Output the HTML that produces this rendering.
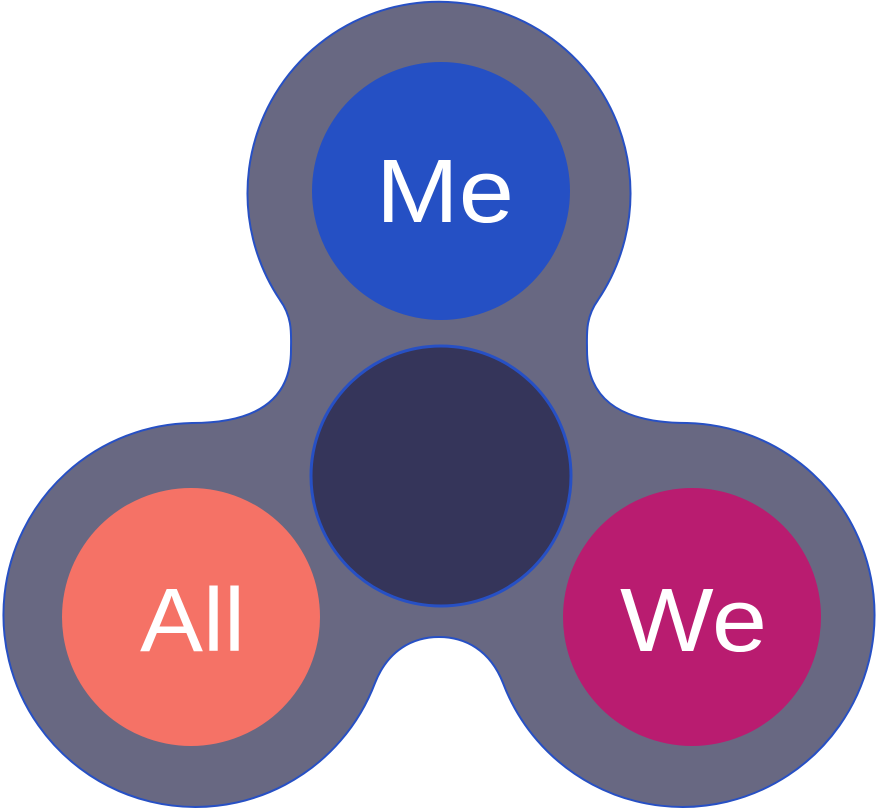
<!DOCTYPE html>
<html><head><style>html,body{margin:0;padding:0;background:#fff;width:877px;height:810px;overflow:hidden}</style></head>
<body>
<svg width="877" height="810" viewBox="0 0 877 810" xmlns="http://www.w3.org/2000/svg">
<path d="M 280 300 A 191.5 191.5 0 1 1 598 300 C 585 318 587 335 587 350 C 587 395 615 423 687 423 A 192 192 0 1 1 503 683 C 490 650 465 637 439 637 C 413 637 388 650 375 683 A 192 192 0 1 1 192 423 C 263 423 291 395 291 350 C 291 335 293 318 280 300 Z" fill="#686882" stroke="#2750c4" stroke-width="2"/>
<circle cx="441" cy="191" r="129" fill="#2550c4"/>
<circle cx="441" cy="476" r="130" fill="#35355a" stroke="#2750c4" stroke-width="3"/>
<circle cx="191" cy="617" r="129" fill="#f57266"/>
<circle cx="692" cy="617" r="129" fill="#b91c70"/>
<g font-family="Liberation Sans, sans-serif" font-size="90" fill="#fff">
<text x="376" y="222" textLength="138" lengthAdjust="spacingAndGlyphs">Me</text>
<text x="140" y="651" textLength="105" lengthAdjust="spacingAndGlyphs">All</text>
<text x="620" y="651" textLength="147" lengthAdjust="spacingAndGlyphs">We</text>
</g>
</svg>
</body></html>
